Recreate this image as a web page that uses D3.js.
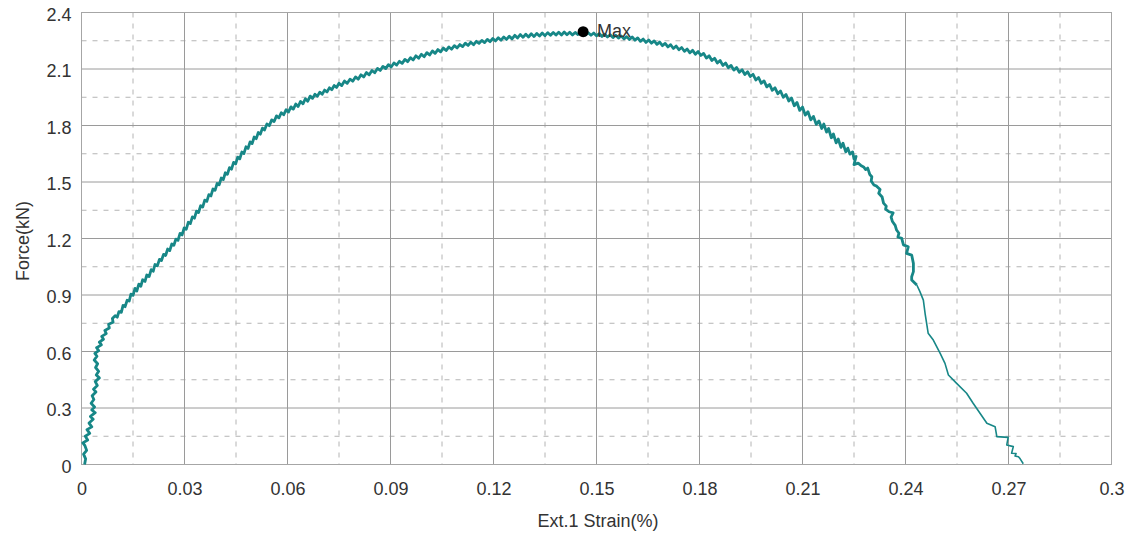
<!DOCTYPE html>
<html>
<head>
<meta charset="utf-8">
<script src="https://cdn.jsdelivr.net/npm/d3@7"></script>
<style>
  html, body { margin: 0; padding: 0; background: #fff; }
  svg { display: block; font-family: "Liberation Sans", Arial, sans-serif; }
</style>
</head>
<body>
<script>
// Tensile test: force against extensometer strain
const xTicks = [0, 0.03, 0.06, 0.09, 0.12, 0.15, 0.18, 0.21, 0.24, 0.27, 0.3];
const xTickLabels = ["0", "0.03", "0.06", "0.09", "0.12", "0.15", "0.18", "0.21", "0.24", "0.27", "0.3"];
const xMinor = [0.015, 0.045, 0.075, 0.105, 0.135, 0.165, 0.195, 0.225, 0.255, 0.285];
const yTicks = [0, 0.3, 0.6, 0.9, 1.2, 1.5, 1.8, 2.1, 2.4];
const yTickLabels = ["0", "0.3", "0.6", "0.9", "1.2", "1.5", "1.8", "2.1", "2.4"];
const yMinor = [0.15, 0.45, 0.75, 1.05, 1.35, 1.65, 1.95, 2.25];

const xTitle = "Ext.1 Strain(%)";
const yTitle = "Force(kN)";

// Peak force marker
const maxStrain = 0.1461;
const maxForce = 2.298;
const maxLabel = "Max";

// Recorded trace: [strain %, force kN]
const trace = [
  [0.0009,0.000],[0.0012,0.030],[0.0006,0.055],[0.0015,0.075],[0.0010,0.100],[0.0004,0.115],
  [0.0018,0.130],[0.0011,0.150],[0.0024,0.165],[0.0016,0.185],[0.0030,0.200],[0.0022,0.220],
  [0.0034,0.240],[0.0026,0.255],[0.0040,0.275],[0.0030,0.290],[0.0038,0.305],[0.0028,0.325],
  [0.0036,0.345],[0.0031,0.365],[0.0042,0.385],[0.0035,0.400],[0.0046,0.420],[0.0040,0.440],
  [0.0052,0.460],[0.0043,0.475],[0.0050,0.495],[0.0041,0.515],[0.0047,0.535],[0.0037,0.555],
  [0.0045,0.575],[0.0039,0.590],[0.0050,0.605],[0.0044,0.620],[0.0058,0.635],[0.0052,0.650],
  [0.0064,0.665],[0.0059,0.680],[0.0072,0.695],[0.0068,0.712],[0.0081,0.725],[0.0079,0.745],
  [0.0092,0.755],[0.0090,0.775],
  [0.0098,0.790],[0.0104,0.782],[0.0109,0.812],[0.0116,0.808],[0.0121,0.845],[0.0127,0.838],
  [0.0133,0.872],[0.0139,0.868],[0.0144,0.905],[0.0150,0.898],
  [0.0156,0.935],[0.0161,0.921],[0.0167,0.958],[0.0173,0.947],[0.0178,0.981],[0.0185,0.972],
  [0.0190,1.006],[0.0197,0.998],[0.0203,1.035],[0.0209,1.026],[0.0214,1.062],[0.0221,1.055],
  [0.0227,1.089],[0.0233,1.083],[0.0239,1.116],[0.0245,1.110],[0.0251,1.144],[0.0257,1.136],
  [0.0263,1.171],[0.0269,1.164],[0.0275,1.197],[0.0281,1.190],
  [0.0287,1.227],[0.0293,1.219],[0.0299,1.256],[0.0305,1.249],[0.0311,1.286],[0.0317,1.279],
  [0.0323,1.315],[0.0329,1.308],[0.0335,1.345],[0.0341,1.338],[0.0347,1.374],[0.0353,1.367],
  [0.0359,1.404],[0.0365,1.397],[0.0371,1.433],[0.0377,1.426],[0.0383,1.463],[0.0389,1.456],
  [0.0395,1.492],[0.0401,1.485],
  [0.0407,1.521],[0.0413,1.513],[0.0419,1.549],[0.0425,1.541],[0.0431,1.576],[0.0437,1.568],
  [0.0443,1.604],[0.0449,1.596],[0.0455,1.632],[0.0461,1.623],[0.0467,1.659],[0.0473,1.651],
  [0.0479,1.687],[0.0485,1.678],[0.0491,1.713],
  [0.0497,1.704],[0.0503,1.739],[0.0509,1.730],[0.0515,1.763],[0.0521,1.754],[0.0527,1.786],
  [0.0533,1.776],[0.0540,1.808],[0.0547,1.799],[0.0554,1.830],[0.0561,1.821],[0.0568,1.851],
  [0.0575,1.841],[0.0582,1.868],[0.0589,1.857],[0.0596,1.884],[0.0603,1.872],
  [0.0610,1.899],[0.0617,1.887],[0.0624,1.914],[0.0631,1.901],[0.0638,1.928],[0.0645,1.915],
  [0.0652,1.942],[0.0659,1.929],[0.0666,1.956],[0.0673,1.944],
  [0.0680,1.966],[0.0687,1.955],[0.0694,1.977],[0.0701,1.966],[0.0708,1.988],[0.0715,1.978],
  [0.0722,2.000],[0.0729,1.990],[0.0736,2.012],[0.0743,2.002],[0.0750,2.024],
  [0.0758,2.012],[0.0766,2.036],[0.0774,2.024],[0.0782,2.046],[0.0790,2.035],[0.0798,2.058],
  [0.0806,2.046],[0.0814,2.069],[0.0822,2.058],[0.0830,2.081],[0.0838,2.069],[0.0846,2.092],
  [0.0854,2.080],[0.0862,2.103],[0.0870,2.092],
  [0.0878,2.114],[0.0886,2.102],[0.0894,2.123],[0.0902,2.111],[0.0910,2.132],[0.0918,2.121],
  [0.0926,2.141],[0.0934,2.130],[0.0942,2.151],[0.0950,2.139],[0.0958,2.160],[0.0966,2.148],
  [0.0974,2.170],[0.0982,2.157],[0.0990,2.178],
  [0.0998,2.165],[0.1006,2.187],[0.1014,2.174],[0.1022,2.196],[0.1030,2.183],[0.1038,2.203],
  [0.1046,2.191],
  [0.1054,2.211],[0.1062,2.198],[0.1070,2.217],[0.1078,2.205],[0.1086,2.224],[0.1094,2.212],
  [0.1102,2.230],[0.1110,2.219],[0.1118,2.237],
  [0.1126,2.225],[0.1134,2.242],[0.1142,2.229],[0.1150,2.247],[0.1158,2.236],[0.1166,2.252],
  [0.1174,2.240],[0.1182,2.257],[0.1190,2.245],[0.1198,2.262],
  [0.1206,2.249],[0.1214,2.266],[0.1222,2.253],[0.1230,2.270],[0.1238,2.257],[0.1246,2.274],
  [0.1254,2.260],[0.1262,2.279],[0.1270,2.265],[0.1278,2.283],
  [0.1286,2.268],[0.1294,2.285],[0.1302,2.270],[0.1310,2.287],[0.1318,2.272],[0.1326,2.289],
  [0.1334,2.275],[0.1342,2.291],[0.1350,2.277],[0.1358,2.293],
  [0.1366,2.279],[0.1374,2.294],[0.1382,2.280],[0.1390,2.295],[0.1398,2.281],[0.1406,2.296],
  [0.1414,2.282],[0.1422,2.295],[0.1430,2.281],[0.1438,2.294],[0.1446,2.283],[0.1454,2.296],
  [0.1461,2.298],[0.1468,2.280],[0.1476,2.293],[0.1484,2.279],
  [0.1492,2.291],[0.1500,2.276],[0.1508,2.288],[0.1516,2.273],[0.1524,2.285],[0.1532,2.270],
  [0.1540,2.282],[0.1548,2.267],[0.1556,2.279],[0.1564,2.264],[0.1572,2.276],[0.1580,2.260],
  [0.1588,2.272],[0.1596,2.257],[0.1604,2.270],[0.1612,2.253],[0.1620,2.265],[0.1628,2.247],
  [0.1636,2.259],[0.1644,2.241],[0.1652,2.254],[0.1660,2.237],
  [0.1668,2.249],[0.1676,2.231],[0.1684,2.243],[0.1692,2.224],[0.1700,2.236],[0.1708,2.217],
  [0.1716,2.229],[0.1724,2.209],[0.1732,2.222],[0.1740,2.202],[0.1748,2.214],[0.1756,2.194],
  [0.1764,2.206],[0.1772,2.186],[0.1780,2.199],[0.1788,2.178],[0.1796,2.193],
  [0.1804,2.172],[0.1812,2.183],[0.1820,2.158],[0.1828,2.170],[0.1836,2.145],[0.1844,2.157],
  [0.1852,2.132],[0.1860,2.145],[0.1868,2.119],[0.1876,2.132],[0.1884,2.107],[0.1892,2.119],
  [0.1900,2.094],
  [0.1908,2.108],[0.1916,2.083],[0.1924,2.096],[0.1932,2.071],[0.1940,2.085],[0.1948,2.060],
  [0.1956,2.072],[0.1964,2.042],[0.1972,2.055],[0.1980,2.024],[0.1988,2.037],[0.1996,2.005],
  [0.2004,2.018],[0.2012,1.987],[0.2020,2.000],[0.2028,1.969],[0.2036,1.983],[0.2044,1.950],
  [0.2052,1.965],
  [0.2060,1.930],[0.2068,1.946],[0.2076,1.905],[0.2084,1.922],[0.2092,1.880],[0.2100,1.898],
  [0.2108,1.855],[0.2116,1.873],[0.2124,1.830],[0.2132,1.848],[0.2140,1.806],[0.2148,1.824],
  [0.2156,1.784],
  [0.2162,1.808],[0.2170,1.765],[0.2176,1.784],[0.2184,1.735],[0.2190,1.755],[0.2198,1.708],
  [0.2204,1.728],[0.2212,1.684],[0.2218,1.706],[0.2226,1.660],[0.2232,1.680],
  [0.2238,1.648],[0.2246,1.660],[0.2250,1.622],[0.2256,1.636],[0.2250,1.592],[0.2262,1.600],
  [0.2270,1.588],[0.2278,1.580],[0.2284,1.566],[0.2290,1.574],[0.2296,1.540],[0.2302,1.528],
  [0.2300,1.505],[0.2308,1.484],[0.2316,1.478],[0.2326,1.460],[0.2322,1.440],[0.2332,1.420],
  [0.2336,1.388],[0.2344,1.372],[0.2342,1.356],[0.2352,1.342],[0.2364,1.336],[0.2358,1.314],
  [0.2362,1.290],[0.2370,1.270],[0.2374,1.245],[0.2381,1.228],[0.2378,1.208],[0.2389,1.201],
  [0.2394,1.166],[0.2408,1.156],[0.2403,1.121],[0.2418,1.112],[0.2423,1.068],[0.2423,1.024],
  [0.2418,0.997],[0.2418,0.980],
  [0.2433,0.953],[0.2442,0.918],[0.2452,0.873],[0.2457,0.803],[0.2466,0.697],[0.2481,0.661],
  [0.2501,0.590],[0.2515,0.537],[0.2525,0.475],[0.2549,0.431],[0.2578,0.378],[0.2597,0.325],
  [0.2617,0.272],[0.2637,0.219],[0.2661,0.201],[0.2666,0.148],[0.2699,0.144],[0.2695,0.104],
  [0.2714,0.095],[0.2709,0.060],[0.2722,0.058],[0.2719,0.045],[0.2729,0.041],[0.2734,0.030],
  [0.2743,0.004]
];

const W = 1136, H = 536;
const FONT = 18;
const svg = d3.select("body").append("svg").attr("width", W).attr("height", H);
svg.append("rect").attr("width", W).attr("height", H).attr("fill", "#fff");

const x = d3.scaleLinear().domain([0, 0.3]).range([81.5, 1111.5]);
const y = d3.scaleLinear().domain([0, 2.4]).range([464.5, 12.5]);
const [x0, x1] = x.range();
const [y0, y1] = y.range();

// Dashed minor grid
const grid = svg.append("g");
grid.selectAll("line.vminor").data(xMinor).join("line")
  .attr("x1", d => x(d)).attr("x2", d => x(d)).attr("y1", y1).attr("y2", y0)
  .attr("stroke", "#b4b4b4").attr("stroke-width", 1).attr("stroke-dasharray", "5,6");
grid.selectAll("line.hminor").data(yMinor).join("line")
  .attr("x1", x0).attr("x2", x1).attr("y1", d => y(d)).attr("y2", d => y(d))
  .attr("stroke", "#b4b4b4").attr("stroke-width", 1).attr("stroke-dasharray", "5,6");

// Solid major grid
grid.selectAll("line.vmajor").data(xTicks).join("line")
  .attr("x1", d => x(d)).attr("x2", d => x(d)).attr("y1", y1).attr("y2", y0)
  .attr("stroke", "#9a9a9a").attr("stroke-width", 1);
grid.selectAll("line.hmajor").data(yTicks).join("line")
  .attr("x1", x0).attr("x2", x1).attr("y1", d => y(d)).attr("y2", d => y(d))
  .attr("stroke", "#9a9a9a").attr("stroke-width", 1);

// Frame
svg.append("rect")
  .attr("x", x0).attr("y", y1).attr("width", x1 - x0).attr("height", y0 - y1)
  .attr("fill", "none").attr("stroke", "#a6a6a6").attr("stroke-width", 1);

// Tick labels through d3 axes
const xAxis = d3.axisBottom(x).tickValues(xTicks)
  .tickFormat((d, i) => xTickLabels[i]).tickSize(0).tickPadding(18);
const gx = svg.append("g").attr("transform", `translate(0,${y0})`).call(xAxis);
const yAxis = d3.axisLeft(y).tickValues(yTicks)
  .tickFormat((d, i) => yTickLabels[i]).tickSize(0).tickPadding(10);
const gy = svg.append("g").attr("transform", `translate(${x0},0)`).call(yAxis);
[gx, gy].forEach(g => {
  g.select(".domain").remove();
  g.selectAll("text").attr("font-size", FONT).attr("fill", "#333")
    .attr("font-family", "'Liberation Sans', Arial, sans-serif");
});
gy.selectAll("text").attr("dy", "0.42em");

// Axis titles
svg.append("text").text(xTitle)
  .attr("x", 598).attr("y", 527).attr("text-anchor", "middle")
  .attr("font-size", FONT).attr("fill", "#333");
svg.append("text").text(yTitle)
  .attr("transform", "translate(29,241) rotate(-90)").attr("text-anchor", "middle")
  .attr("font-size", FONT).attr("fill", "#333");

// Force trace: dense noisy section, then thinner fracture tail
const tailFrom = trace.findIndex(d => d[0] > 0.243);
const line = d3.line().x(d => x(d[0])).y(d => y(d[1]));
svg.append("path").datum(trace.slice(0, tailFrom + 1))
  .attr("d", line).attr("fill", "none").attr("stroke", "#178787")
  .attr("stroke-width", 2.8).attr("stroke-linejoin", "round");
svg.append("path").datum(trace.slice(tailFrom))
  .attr("d", line).attr("fill", "none").attr("stroke", "#178787")
  .attr("stroke-width", 1.6).attr("stroke-linejoin", "round");

// Max marker
svg.append("circle").attr("cx", x(maxStrain)).attr("cy", y(maxForce)).attr("r", 5.5).attr("fill", "#000");
svg.append("text").text(maxLabel)
  .attr("x", x(maxStrain) + 14).attr("y", y(maxForce) + 5.5)
  .attr("font-size", FONT).attr("fill", "#333");
</script>
</body>
</html>
